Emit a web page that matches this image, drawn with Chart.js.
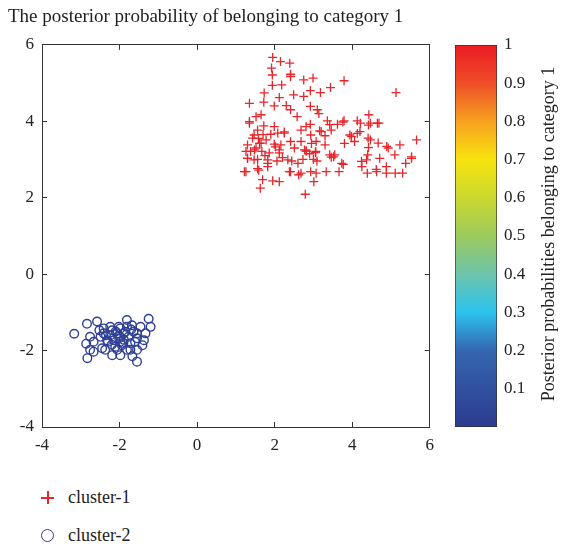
<!DOCTYPE html>
<html lang="en">

<head>
    <meta charset="UTF-8">
    <title>Posterior probability</title>
    <script src="https://cdn.jsdelivr.net/npm/chart.js"></script>
</head>

<body style="margin: 0; background: #ffffff; width: 570px; height: 547px; overflow: hidden; position: relative;
    font-family: 'Liberation Serif', 'DejaVu Serif', serif;">
    <div style="position: absolute; left: 0; top: 0; width: 447px; height: 460px;">
        <canvas id="mainChart"></canvas>
    </div>
    <div style="position: absolute; left: 440px; top: 0; width: 130px; height: 460px;">
        <canvas id="barChart"></canvas>
    </div>
    <div id="legend" style="position: absolute; left: 41px; top: 478px; font-size: 18px; color: #222;"></div>

    <script>
        // cluster-1 (crosses)
        const cluster1X = [1.95, 2.15, 2.39, 1.92, 2.41, 1.94, 2.75, 2.99, 3.79, 2.41, 1.94, 2.18, 5.13, 3.44, 2.92,
            3.18, 1.73, 2.49, 2.75, 2.12, 1.35, 1.72, 1.99, 2.30, 2.92, 2.41, 3.10, 1.65, 2.58, 3.14,
            1.35, 1.52, 2.92, 3.36, 3.62, 3.79, 4.13, 4.43, 4.65, 4.42, 1.99, 1.72, 2.25, 2.68, 3.16,
            3.46, 3.94, 4.13, 1.47, 1.70, 1.90, 2.93, 3.30, 4.41, 4.67, 5.66, 5.23, 4.89, 1.30, 1.61,
            1.99, 2.41, 2.68, 2.95, 3.30, 3.80, 4.06, 4.42, 1.38, 1.67, 2.12, 2.81, 3.06, 3.55, 3.46,
            5.10, 5.53, 4.71, 4.37, 1.30, 1.56, 1.82, 2.06, 2.44, 2.73, 3.09, 3.77, 4.25, 5.38, 1.26,
            1.56, 1.82, 2.41, 2.68, 2.93, 3.33, 3.66, 4.39, 4.62, 4.88, 5.30, 1.69, 1.95, 2.12, 3.01,
            1.63, 2.79, 1.35, 1.56, 1.43, 1.65, 1.52, 1.78, 2.08, 2.25, 1.86, 1.30, 1.47, 1.82, 2.12,
            2.16, 2.51, 2.77, 2.82, 3.07, 3.20, 2.81, 3.00, 2.38, 2.62, 3.07, 1.22, 1.59, 2.60, 2.34,
            1.26, 3.42, 3.76, 4.21, 4.47, 4.69, 3.98, 4.20, 4.47, 4.93, 3.42, 3.52, 3.73, 4.24, 4.40,
            5.53, 4.88, 4.63, 5.11, 1.58, 1.75, 2.02, 2.90, 3.05, 1.48, 2.20];
        const cluster1Y = [5.67, 5.56, 5.52, 5.39, 5.23, 5.21, 5.08, 5.13, 5.06, 5.17, 4.94, 4.95, 4.75, 4.88, 4.80,
            4.75, 4.74, 4.69, 4.65, 4.62, 4.47, 4.50, 4.40, 4.41, 4.39, 4.30, 4.30, 4.17, 4.12, 4.20,
            3.99, 4.12, 3.92, 4.01, 3.92, 4.01, 4.01, 4.17, 3.95, 3.90, 3.86, 3.88, 3.72, 3.77, 3.75,
            3.77, 3.64, 3.68, 3.64, 3.65, 3.66, 3.64, 3.62, 3.56, 3.43, 3.51, 3.38, 3.34, 3.38, 3.42,
            3.40, 3.47, 3.47, 3.42, 3.38, 3.42, 3.47, 3.31, 3.21, 3.21, 3.25, 3.22, 3.21, 3.12, 3.06,
            3.12, 3.03, 3.03, 2.99, 3.03, 3.00, 2.99, 2.96, 2.96, 3.00, 2.96, 2.87, 2.81, 2.90, 2.68,
            2.76, 2.81, 2.68, 2.64, 2.68, 2.68, 2.68, 2.64, 2.74, 2.64, 2.64, 2.47, 2.44, 2.42, 2.42,
            2.25, 2.09, 3.95, 3.77, 3.56, 3.43, 3.30, 3.51, 3.69, 3.69, 3.17, 3.03, 2.99, 2.90, 3.17,
            3.38, 3.30, 3.25, 3.22, 3.47, 3.73, 3.86, 3.00, 2.68, 2.60, 2.64, 2.68, 2.72, 2.90, 2.99,
            3.21, 3.91, 3.98, 3.95, 3.95, 3.95, 3.60, 3.73, 3.51, 3.30, 3.12, 3.07, 2.90, 2.95, 3.12,
            3.07, 2.81, 2.68, 2.64, 3.55, 3.10, 3.33, 3.15, 3.18, 3.25, 3.05];

        // cluster-2 (circles)
        const cluster2X = [-3.17, -2.84, -2.58, -2.86, -2.76, -2.83, -2.67, -2.67, -2.45, -2.41, -2.24, -2.30, -2.19,
            -1.98, -2.02, -1.81, -1.77, -1.89, -1.72, -1.67, -1.55, -1.46, -1.25, -1.20, -1.37, -1.41,
            -2.06, -2.15, -1.64, -1.55, -2.41, -2.52, -2.49, -2.37, -2.11, -1.94, -1.85, -1.98, -1.68,
            -1.60, -2.01, -2.24, -1.81, -2.06, -2.19, -2.76, -1.55, -1.33, -1.72, -1.89, -2.32, -1.98,
            -2.10, -1.81, -1.55, -2.00, -1.90, -2.20, -1.70, -2.35];
        const cluster2Y = [-1.56, -1.30, -1.24, -1.82, -1.98, -2.20, -2.03, -1.77, -1.94, -1.55, -1.38, -1.77, -2.12,
            -2.12, -1.38, -1.20, -1.64, -1.72, -1.98, -2.15, -2.29, -1.38, -1.17, -1.38, -1.73, -1.86,
            -1.55, -1.73, -1.51, -1.55, -1.42, -1.47, -1.64, -1.98, -1.90, -1.86, -1.51, -1.42, -1.34,
            -1.77, -1.68, -1.60, -1.98, -1.98, -1.47, -1.64, -1.98, -1.55, -1.81, -1.55, -1.73, -1.77,
            -1.50, -1.38, -1.68, -1.62, -1.80, -1.85, -1.45, -1.60];

        const seriesNames = ['cluster-1', 'cluster-2'];
        const axisTicks = [-4, -2, 0, 2, 4, 6];
        const barTicks = [0.1, 0.2, 0.3, 0.4, 0.5, 0.6, 0.7, 0.8, 0.9, 1];
        // colour stops of the colour bar, bottom to top
        const barStops = [0, 0.2, 0.3, 0.4, 0.5, 0.6, 0.7, 0.8, 0.9, 1];
        const barColors = ['#2c3b8f', '#3566b0', '#2cc3ef', '#6cc4ab', '#9dca5c', '#cad92f', '#f8e30e', '#f6a21f', '#ef4d28', '#ec1c24'];

        const textColor = '#222';
        const frameColor = '#333';
        const serif = "'Liberation Serif', 'DejaVu Serif', serif";

        function zip(xs, ys) {
            return xs.map((x, i) => ({ x: x, y: ys[i] }));
        }

        function boxAxis(position, showLabels, fitSize) {
            return {
                type: 'linear',
                position: position,
                min: -4,
                max: 6,
                afterBuildTicks: (scale) => { scale.ticks = axisTicks.map(v => ({ value: v })); },
                afterFit: (scale) => {
                    if (scale.isHorizontal()) scale.height = fitSize; else scale.width = fitSize;
                },
                border: { display: true, color: frameColor, width: 1 },
                grid: { drawOnChartArea: false, drawTicks: true, tickLength: -5, color: frameColor },
                ticks: {
                    display: showLabels,
                    padding: 13,
                    color: textColor,
                    font: { family: serif, size: 17 }
                }
            };
        }

        const mainChart = new Chart(document.getElementById('mainChart'), {
            type: 'scatter',
            data: {
                datasets: [{
                    label: seriesNames[0],
                    data: zip(cluster1X, cluster1Y),
                    pointStyle: 'cross',
                    pointRadius: 4.5,
                    borderColor: '#e5262b',
                    backgroundColor: '#e5262b',
                    borderWidth: 1.3
                }, {
                    label: seriesNames[1],
                    data: zip(cluster2X, cluster2Y),
                    pointStyle: 'circle',
                    pointRadius: 4.3,
                    borderColor: '#2e3f95',
                    backgroundColor: 'rgba(0,0,0,0)',
                    borderWidth: 1.4
                }]
            },
            options: {
                responsive: true,
                maintainAspectRatio: false,
                animation: false,
                layout: { padding: { left: 8, right: 5, top: 0, bottom: 0 } },
                scales: {
                    x: boxAxis('bottom', true, 33),
                    y: boxAxis('left', true, 34),
                    x2: boxAxis('top', false, 0),
                    y2: boxAxis('right', false, 0)
                },
                plugins: {
                    legend: { display: false },
                    tooltip: { enabled: false },
                    title: {
                        display: true,
                        text: 'The posterior probability of belonging to category 1',
                        align: 'start',
                        color: textColor,
                        font: { family: serif, size: 19, weight: 'normal' },
                        padding: { top: 6, bottom: 16 }
                    }
                }
            }
        });

        // vertical axis title of the colour bar, reading bottom to top
        const barTitle = {
            id: 'barTitle',
            afterDraw(chart) {
                const ctx = chart.ctx;
                const area = chart.chartArea;
                ctx.save();
                ctx.translate(109, (area.top + area.bottom) / 2 - 2);
                ctx.rotate(-Math.PI / 2);
                ctx.font = '18px ' + serif;
                ctx.fillStyle = textColor;
                ctx.textAlign = 'center';
                ctx.textBaseline = 'middle';
                ctx.fillText('Posterior probabilities belonging to category 1', 0, 0);
                ctx.restore();
            }
        };

        const barChart = new Chart(document.getElementById('barChart'), {
            type: 'bar',
            data: {
                labels: ['p'],
                datasets: [{
                    data: [1],
                    barPercentage: 1,
                    categoryPercentage: 1,
                    borderColor: frameColor,
                    borderWidth: 1,
                    borderSkipped: false,
                    backgroundColor: (ctx) => {
                        const area = ctx.chart.chartArea;
                        if (!area) return barColors[0];
                        const g = ctx.chart.ctx.createLinearGradient(0, area.bottom, 0, area.top);
                        barStops.forEach((s, i) => g.addColorStop(s, barColors[i]));
                        return g;
                    }
                }]
            },
            options: {
                responsive: true,
                maintainAspectRatio: false,
                animation: false,
                layout: { padding: { left: 15, right: 0, top: 45, bottom: 33 } },
                scales: {
                    x: { display: false },
                    y: {
                        position: 'right',
                        min: 0,
                        max: 1,
                        afterBuildTicks: (scale) => { scale.ticks = barTicks.map(v => ({ value: v })); },
                        afterFit: (scale) => { scale.width = 73; },
                        border: { display: false },
                        grid: { drawOnChartArea: false, drawTicks: true, tickLength: -4, color: frameColor },
                        ticks: {
                            padding: 11,
                            color: textColor,
                            font: { family: serif, size: 17 },
                            callback: (v) => String(Math.round(v * 10) / 10)
                        }
                    }
                },
                plugins: { legend: { display: false }, tooltip: { enabled: false } }
            },
            plugins: [barTitle]
        });

        // legend below the plot, one row per series
        const legend = document.getElementById('legend');
        mainChart.data.datasets.forEach((ds, i) => {
            const row = document.createElement('div');
            row.style.cssText = 'display: flex; align-items: center; height: 38px;';
            const mark = document.createElement('span');
            mark.style.cssText = 'position: relative; display: inline-block; width: 13px; height: 13px;';
            if (ds.pointStyle === 'cross') {
                const h = document.createElement('span');
                h.style.cssText = 'position: absolute; left: 0; top: 6px; width: 13px; height: 2px; background-color: ' + ds.borderColor + ';';
                const v = document.createElement('span');
                v.style.cssText = 'position: absolute; left: 6px; top: 0; width: 2px; height: 13px; background-color: ' + ds.borderColor + ';';
                mark.appendChild(h);
                mark.appendChild(v);
            } else {
                mark.style.borderRadius = '50%';
                mark.style.boxSizing = 'border-box';
                mark.style.border = '1.4px solid ' + ds.borderColor;
            }
            const label = document.createElement('span');
            label.textContent = ds.label;
            label.style.marginLeft = '14px';
            row.appendChild(mark);
            row.appendChild(label);
            legend.appendChild(row);
        });
    </script>
</body>

</html>
